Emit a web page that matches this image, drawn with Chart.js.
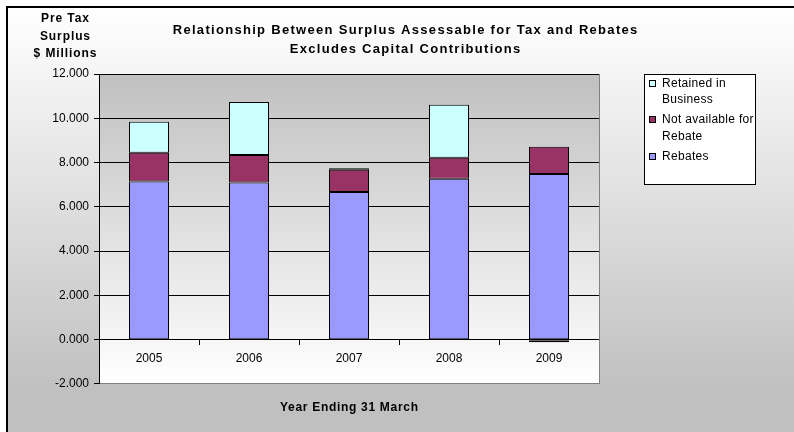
<!DOCTYPE html>
<html>
<head>
<meta charset="utf-8">
<script src="https://cdn.jsdelivr.net/npm/chart.js@4/dist/chart.umd.min.js"></script>
<style>
  html, body { margin: 0; padding: 0; background: #ffffff; }
  #wrap { width: 794px; height: 432px; }
</style>
</head>
<body>
<div id="wrap"><canvas id="c" width="794" height="432"></canvas></div>
<script>
// ---- data ----
const years = ['2005', '2006', '2007', '2008', '2009'];
const rebates = [7.15, 7.10, 6.67, 7.27, 7.48];
const notAvailable = [1.30, 1.24, 1.01, 0.95, 1.24];
const retained = [1.40, 2.40, 0.06, 2.39, -0.12];
const yTickValues = [-2, 0, 2, 4, 6, 8, 10, 12];
const seriesNames = ['Rebates', 'Not available for Rebate', 'Retained in Business'];
const seriesColors = ['#9999ff', '#993366', '#ccffff'];
const chartTitle = ['Relationship Between Surplus Assessable for Tax and Rebates', 'Excludes Capital Contributions'];
const yTitle = ['Pre Tax', 'Surplus', '$ Millions'];
const xTitle = 'Year Ending 31 March';

const FONT = '"Liberation Sans", Arial, sans-serif';

function wrapText(ctx, text, maxW) {
  const words = text.split(' ');
  const lines = [];
  let cur = '';
  for (const w of words) {
    const t = cur ? cur + ' ' + w : w;
    if (ctx.measureText(t).width > maxW && cur) { lines.push(cur); cur = w; }
    else cur = t;
  }
  if (cur) lines.push(cur);
  return lines;
}

function spacedText(ctx, text, x, y, spacing) {
  if ('letterSpacing' in ctx) {
    ctx.letterSpacing = spacing + 'px';
    ctx.fillText(text, x + (ctx.textAlign === 'center' ? spacing / 2 : 0), y);
    ctx.letterSpacing = '0px';
  } else {
    ctx.fillText(text, x, y);
  }
}

const decor = {
  id: 'decor',
  beforeDraw(chart) {
    const ctx = chart.ctx, W = chart.width, H = chart.height;
    const ca = chart.chartArea;
    ctx.save();
    ctx.fillStyle = '#ffffff';
    ctx.fillRect(0, 0, W, H);
    const g = ctx.createLinearGradient(0, 8, 0, 390);
    g.addColorStop(0, '#ffffff');
    g.addColorStop(1, '#c0c0c0');
    ctx.fillStyle = g;
    ctx.fillRect(8, 8, W - 8, H - 8);
    const pg = ctx.createLinearGradient(0, ca.top, 0, ca.bottom);
    pg.addColorStop(0, '#c0c0c0');
    pg.addColorStop(1, '#ffffff');
    ctx.fillStyle = pg;
    ctx.fillRect(ca.left, ca.top, ca.right - ca.left, ca.bottom - ca.top);
    // chart border (cropped)
    ctx.strokeStyle = '#000000';
    ctx.lineWidth = 2;
    ctx.beginPath();
    ctx.moveTo(7, H); ctx.lineTo(7, 7); ctx.lineTo(W, 7);
    ctx.stroke();
    ctx.restore();
  },
  afterDraw(chart) {
    const ctx = chart.ctx;
    const ca = chart.chartArea;
    ctx.save();
    // plot area right edge
    ctx.strokeStyle = '#808080';
    ctx.lineWidth = 1;
    ctx.beginPath();
    ctx.moveTo(Math.round(ca.right) + 0.5, ca.top);
    ctx.lineTo(Math.round(ca.right) + 0.5, ca.bottom);
    ctx.stroke();
    ctx.fillStyle = '#000000';
    ctx.textAlign = 'center';
    ctx.textBaseline = 'middle';
    // chart title
    ctx.font = 'bold 13px ' + FONT;
    chartTitle.forEach((t, i) => spacedText(ctx, t, 405, 30.7 + i * 18.3, 1.3));
    // y axis title (horizontal, top-left)
    ctx.font = 'bold 12px ' + FONT;
    yTitle.forEach((t, i) => spacedText(ctx, t, 65, 19 + i * 17.2, 0.9));
    // x axis title, centred under the plot area
    spacedText(ctx, xTitle, (ca.left + ca.right) / 2, 408, 0.7);
    // legend box
    const lx = 644.5, ly = 74.5, lw = 111, lh = 110;
    ctx.fillStyle = '#ffffff';
    ctx.fillRect(lx, ly, lw, lh);
    ctx.strokeStyle = '#000000';
    ctx.strokeRect(lx, ly, lw, lh);
    ctx.font = '12px ' + FONT;
    ctx.textAlign = 'left';
    let y = 83.5;
    const ds = chart.data.datasets;
    for (let i = ds.length - 1; i >= 0; i--) {
      const lines = wrapText(ctx, ds[i].label, 93);
      ctx.fillStyle = ds[i].backgroundColor;
      ctx.fillRect(649.5, Math.round(y) - 3.5, 6, 6);
      ctx.strokeStyle = '#000000';
      ctx.strokeRect(649.5, Math.round(y) - 3.5, 6, 6);
      ctx.fillStyle = '#000000';
      lines.forEach((t, k) => spacedText(ctx, t, 662, y + k * 16.5, 0.3));
      y += lines.length * 16.5 + 3.5;
    }
    ctx.restore();
  }
};

const datasets = [rebates, notAvailable, retained].map((vals, i) => ({
  label: seriesNames[i],
  data: vals,
  backgroundColor: seriesColors[i],
  borderColor: '#000000',
  borderWidth: 1,
  borderSkipped: false,
  inflateAmount: 0,
  xAxisID: 'x',
  yAxisID: 'y',
  barPercentage: 0.4,
  categoryPercentage: 1.0
}));

new Chart(document.getElementById('c'), {
  type: 'bar',
  data: { labels: years, datasets },
  plugins: [decor],
  options: {
    responsive: false,
    animation: false,
    devicePixelRatio: 1,
    layout: { padding: { left: 16, right: 0, top: 74.1, bottom: 48.1 } },
    plugins: {
      legend: { display: false },
      tooltip: { enabled: false },
      title: { display: false }
    },
    scales: {
      y: {
        position: 'left',
        stacked: true,
        min: yTickValues[0],
        max: yTickValues[yTickValues.length - 1],
        afterBuildTicks: s => { s.ticks = yTickValues.map(v => ({ value: v })); },
        afterFit: s => { s.width = 83; },
        ticks: {
          color: '#000000',
          padding: 5,
          font: { family: FONT, size: 12 },
          callback: v => Number(v).toFixed(3)
        },
        grid: {
          color: c => (c.tick && c.tick.value === yTickValues[0]) ? '#808080' : '#000000',
          lineWidth: 1,
          tickLength: 5,
          tickColor: '#000000'
        },
        border: { display: true, color: '#000000', width: 1 }
      },
      yr: {
        position: 'right',
        display: true,
        afterFit: s => { s.width = 195; },
        ticks: { display: false },
        grid: { display: false },
        border: { display: false }
      },
      x: {
        type: 'category',
        position: { y: 0 },
        stacked: true,
        afterFit: s => { s.height = 0; },
        ticks: {
          color: '#000000',
          padding: 7,
          maxRotation: 0,
          font: { family: FONT, size: 12 }
        },
        grid: {
          offset: true,
          drawOnChartArea: false,
          drawTicks: true,
          tickLength: 5,
          tickColor: '#000000'
        },
        border: { display: true, color: '#000000', width: 1 }
      }
    }
  }
});
</script>
</body>
</html>
